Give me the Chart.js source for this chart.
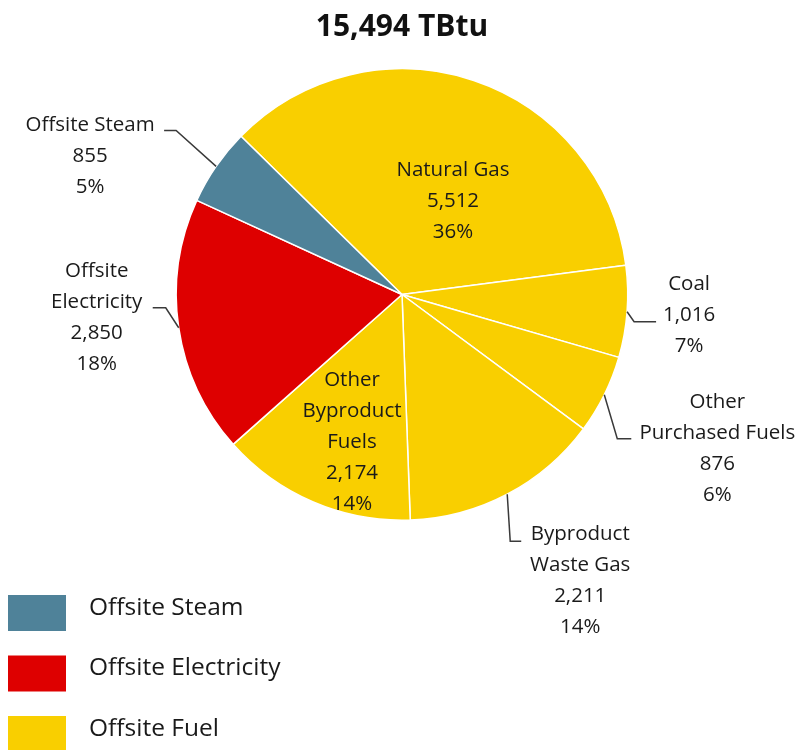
<!DOCTYPE html>
<html>
<head>
<meta charset="utf-8">
<script src="https://cdn.jsdelivr.net/npm/chart.js@4/dist/chart.umd.min.js"></script>
<style>
  body { margin: 0; background: #fff; }
  #wrap { width: 803px; height: 750px; }
</style>
</head>
<body>
<div id="wrap"><canvas id="energyPie" width="803" height="750"></canvas></div>
<script>
// slice data, clockwise from Natural Gas
const categories = ['Natural Gas', 'Coal', 'Other Purchased Fuels', 'Byproduct Waste Gas',
                    'Other Byproduct Fuels', 'Offsite Electricity', 'Offsite Steam'];
const labelLines = [['Natural Gas'], ['Coal'], ['Other', 'Purchased Fuels'], ['Byproduct', 'Waste Gas'],
                    ['Other', 'Byproduct', 'Fuels'], ['Offsite', 'Electricity'], ['Offsite Steam']];
const values = [5512, 1016, 876, 2211, 2174, 2850, 855];
const percents = [36, 7, 6, 14, 14, 18, 5];
const sliceGroup = ['Offsite Fuel', 'Offsite Fuel', 'Offsite Fuel', 'Offsite Fuel',
                    'Offsite Fuel', 'Offsite Electricity', 'Offsite Steam'];
const legendGroups = ['Offsite Steam', 'Offsite Electricity', 'Offsite Fuel'];
const titleText = '15,494 TBtu';

const groupColors = {
    'Offsite Steam': '#4f8299',
    'Offsite Electricity': '#de0000',
    'Offsite Fuel': '#f9cf00'
};

const FONT = '"Open Sans", Lato, sans-serif';

// label placement: inside labels relative to pie centre, outside ones relative to slice edge
const labelLayout = [
    { inside: true, dx: 51, dy: -124 },
    { dx: 62, dy: -28, kink: [7, 10, 22] },
    { dx: 113, dy: 7, kink: [13, 44, 14] },
    { dx: 73, dy: 40, kink: [3, 47, 11] },
    { inside: true, dx: -50, dy: 86 },
    { dx: -82, dy: -57, kink: [-13, -20, -13] },
    { dx: -126, dy: -41, kink: [-40, -36, -12] }
];

const sliceLabels = {
    id: 'sliceLabels',
    afterDatasetsDraw(chart) {
        const ctx = chart.ctx;
        const meta = chart.getDatasetMeta(0);
        ctx.save();
        ctx.font = '20.5px ' + FONT;
        ctx.textAlign = 'center';
        ctx.textBaseline = 'middle';
        meta.data.forEach((arc, i) => {
            const p = arc.getProps(['x', 'y', 'startAngle', 'endAngle', 'outerRadius'], true);
            const mid = (p.startAngle + p.endAngle) / 2;
            const ex = p.x + Math.cos(mid) * p.outerRadius;
            const ey = p.y + Math.sin(mid) * p.outerRadius;
            const lay = labelLayout[i];
            let tx, ty;
            if (lay.inside) {
                tx = p.x + lay.dx;
                ty = p.y + lay.dy;
            } else {
                tx = ex + lay.dx;
                ty = ey + lay.dy;
                ctx.strokeStyle = '#3a3a3a';
                ctx.lineWidth = 1.5;
                ctx.beginPath();
                ctx.moveTo(ex, ey);
                ctx.lineTo(ex + lay.kink[0], ey + lay.kink[1]);
                ctx.lineTo(ex + lay.kink[0] + lay.kink[2], ey + lay.kink[1]);
                ctx.stroke();
            }
            const lines = labelLines[i].concat([values[i].toLocaleString('en-US'), percents[i] + '%']);
            ctx.fillStyle = '#1a1a1a';
            lines.forEach((s, j) => ctx.fillText(s, tx, ty + j * 31));
        });
        ctx.restore();
    }
};

// stacked legend in the bottom-left corner
const groupLegend = {
    id: 'groupLegend',
    afterDraw(chart) {
        const ctx = chart.ctx;
        ctx.save();
        ctx.font = '24.5px ' + FONT;
        ctx.textBaseline = 'middle';
        ctx.textAlign = 'left';
        legendGroups.forEach((g, i) => {
            const top = 595 + i * 60.5;
            ctx.fillStyle = groupColors[g];
            ctx.fillRect(8, top, 58, 36);
            ctx.fillStyle = '#1a1a1a';
            ctx.fillText(g, 89, top + 13);
        });
        ctx.restore();
    }
};

new Chart(document.getElementById('energyPie'), {
    type: 'pie',
    data: {
        labels: categories,
        datasets: [{
            data: values,
            backgroundColor: sliceGroup.map(g => groupColors[g]),
            borderColor: '#ffffff',
            borderWidth: 1.5
        }]
    },
    options: {
        responsive: false,
        animation: false,
        rotation: -45.5,
        layout: { padding: { top: 0, left: 175, right: 174, bottom: 229 } },
        plugins: {
            legend: { display: false },
            tooltip: { enabled: false },
            title: {
                display: true,
                text: titleText,
                color: '#111',
                font: { family: FONT, size: 30, weight: 'bold', lineHeight: 1.2 },
                padding: { top: 9, bottom: 23 }
            }
        }
    },
    plugins: [sliceLabels, groupLegend]
});
</script>
</body>
</html>
